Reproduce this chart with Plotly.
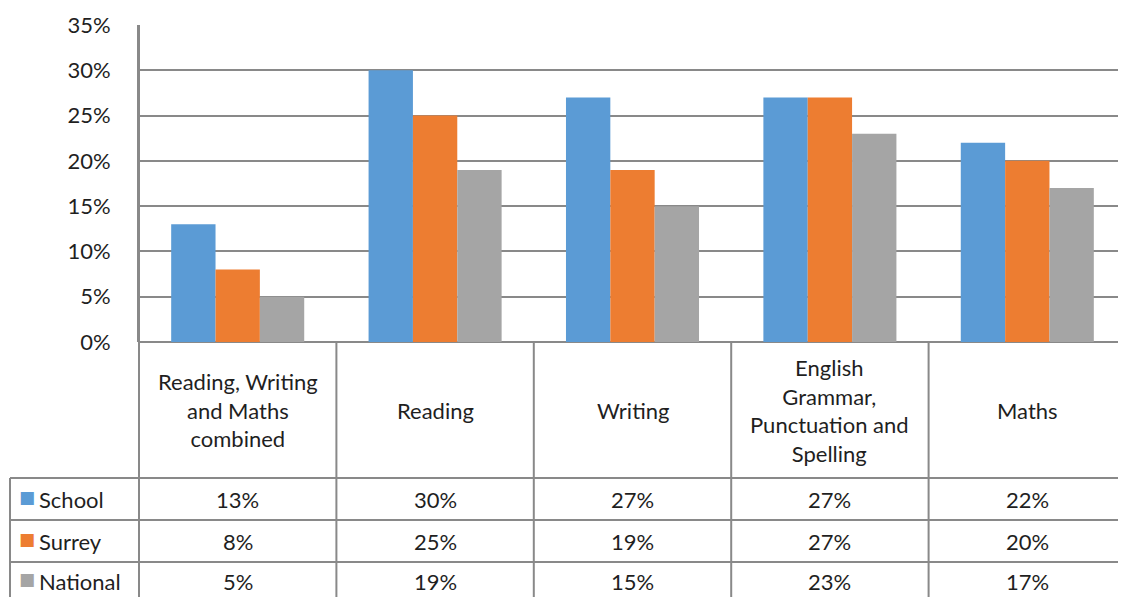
import plotly.graph_objects as go

categories = ["Reading, Writing and Maths combined", "Reading", "Writing",
              "English Grammar, Punctuation and Spelling", "Maths"]
header_labels = ["Reading, Writing<br>and Maths<br>combined", "Reading", "Writing",
                 "English<br>Grammar,<br>Punctuation and<br>Spelling", "Maths"]
series_names = ["School", "Surrey", "National"]
school = [13, 30, 27, 27, 22]
surrey = [8, 25, 19, 27, 20]
national = [5, 19, 15, 23, 17]
colors = ["#5B9BD5", "#ED7D31", "#A5A5A5"]

# page body has an 8px margin, so figure pixel = page pixel - 8
OFF = 8
W, H = 1126 - OFF, 597 - OFF
L, T, B = 139 - OFF, 25 - OFF, 342 - OFF          # plot-area pixel edges (figure coords)
PW, PH = W - L, B - T
GRID = "#898989"
TXT = "#1f1f1f"
FONT = "Lato"
FS = 22


def px(xpage):
    return (xpage - OFF - L) / PW


def py(ypage):
    return (B - (ypage - OFF)) / PH


fig = go.Figure()
for name, vals, col in zip(series_names, [school, surrey, national], colors):
    fig.add_trace(go.Bar(x=categories, y=vals, name=name, marker=dict(color=col, line=dict(width=0))))

shapes = []
ybot = py(700)  # well below the bottom
shapes.append(dict(type="line", xref="x domain", yref="paper", x0=0, x1=0, y0=ybot, y1=1,
                   line=dict(color=GRID, width=2)))
for i in range(len(categories) - 1):
    shapes.append(dict(type="line", xref="x", yref="paper", x0=i + 0.5, x1=i + 0.5, y0=ybot, y1=0,
                       line=dict(color=GRID, width=2)))
shapes.append(dict(type="line", xref="paper", yref="paper", x0=px(10), x1=px(10), y0=ybot, y1=py(478),
                   line=dict(color=GRID, width=2)))
for yy in [478, 520, 562]:
    shapes.append(dict(type="line", xref="paper", yref="paper", x0=px(10), x1=1, y0=py(yy), y1=py(yy),
                       line=dict(color=GRID, width=2)))

annotations = []
for cat, lab in zip(categories, header_labels):
    annotations.append(dict(x=cat, xref="x", y=py(410), yref="paper", text=lab, showarrow=False,
                            xanchor="center", yanchor="middle", font=dict(family=FONT, size=FS, color=TXT)))
row_centers = [499, 541, 581]
for name, vals, col, yc in zip(series_names, [school, surrey, national], colors, row_centers):
    # legend key
    annotations.append(dict(x=px(27), xref="paper", y=py(yc - 2), yref="paper", text="■", showarrow=False,
                            xanchor="center", yanchor="middle", font=dict(family="DejaVu Sans", size=17, color=col)))
    annotations.append(dict(x=px(37), xref="paper", y=py(yc), yref="paper", text=name, showarrow=False,
                            xanchor="left", yanchor="middle", font=dict(family=FONT, size=FS, color=TXT)))
    for cat, v in zip(categories, vals):
        annotations.append(dict(x=cat, xref="x", y=py(yc), yref="paper", text=f"{v}%", showarrow=False,
                                xanchor="center", yanchor="middle", font=dict(family=FONT, size=FS, color=TXT)))

fig.update_layout(
    width=W, height=H,
    margin=dict(l=L, r=0, t=T, b=H - B, pad=0),
    paper_bgcolor="white", plot_bgcolor="white",
    barmode="group", bargap=0.326, bargroupgap=0,
    showlegend=False,
    shapes=shapes, annotations=annotations,
    xaxis=dict(showticklabels=False, showgrid=False, zeroline=False, showline=False, ticks="",
               range=[-0.5, len(categories) - 0.5], fixedrange=True, automargin=False),
    yaxis=dict(range=[0, 35], dtick=5, ticksuffix="%", showgrid=True, gridcolor=GRID, gridwidth=2,
               zeroline=True, zerolinecolor=GRID, zerolinewidth=2, showline=True, linecolor=GRID,
               linewidth=2, ticks="", ticklabelstandoff=22, automargin=False,
               tickfont=dict(family=FONT, size=FS, color=TXT)),
)

fig.write_html("out.html")
